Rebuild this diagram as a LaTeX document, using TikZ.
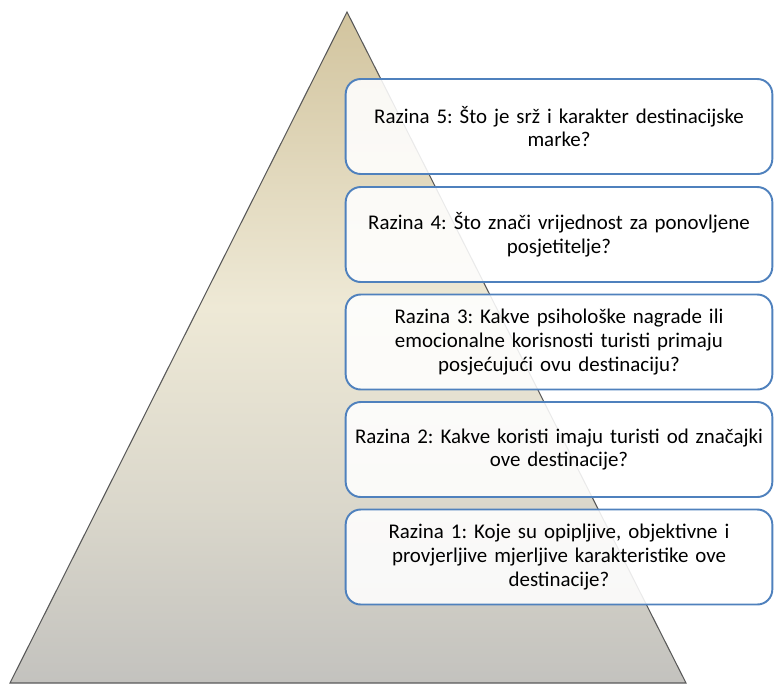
\documentclass[tikz,border=0pt]{standalone}
\usepackage{fontspec}
\setmainfont{Carlito}
\frenchspacing
\definecolor{razinaplava}{RGB}{79,129,189}
\definecolor{pdno}{RGB}{195,194,190}
\definecolor{psred}{RGB}{218,215,203}
\definecolor{pkrem}{RGB}{238,233,214}
\definecolor{pvrh}{RGB}{210,196,158}
\pgfdeclareverticalshading{piramida}{100bp}{color(0bp)=(pdno); color(25bp)=(pdno); color(38bp)=(psred); color(53bp)=(pkrem); color(75bp)=(pvrh); color(100bp)=(pvrh)}
\begin{document}
\begin{tikzpicture}[x=0.02cm, y=-0.02cm,
    razina/.style={draw=razinaplava, line width=1.1pt, rounded corners=0.3cm,
      fill=white, fill opacity=0.88, text opacity=1,
      minimum width=8.48cm, minimum height=1.9cm, text width=8.3cm, align=center,
      font=\fontsize{11.9}{13.4}\selectfont}]
    \useasboundingbox (0,0) rectangle (774,684);
    \coordinate (vrh) at (347,12);
    \coordinate (lijevo) at (10,683);
    \coordinate (desno) at (686,683);
    \draw[draw=black!65, line width=0.6pt, shading=piramida] (vrh) -- (lijevo) -- (desno) -- cycle;

    \node[razina] (raz5) at (559,126.5) {Razina 5: Što je srž i karakter destinacijske\\ marke?};
    \node[razina] (raz4) at (559,234.5) {Razina 4: Što znači vrijednost za ponovljene\\ posjetitelje?};
    \node[razina] (raz3) at (559,342) {Razina 3: Kakve psihološke nagrade ili\\ emocionalne korisnosti turisti primaju\\ posjećujući ovu destinaciju?};
    \node[razina] (raz2) at (559,449.5) {Razina 2: Kakve koristi imaju turisti od značajki\\ ove destinacije?};
    \node[razina] (raz1) at (559,557) {Razina 1: Koje su opipljive, objektivne i\\ provjerljive mjerljive karakteristike ove\\ destinacije?};
\end{tikzpicture}
\end{document}
